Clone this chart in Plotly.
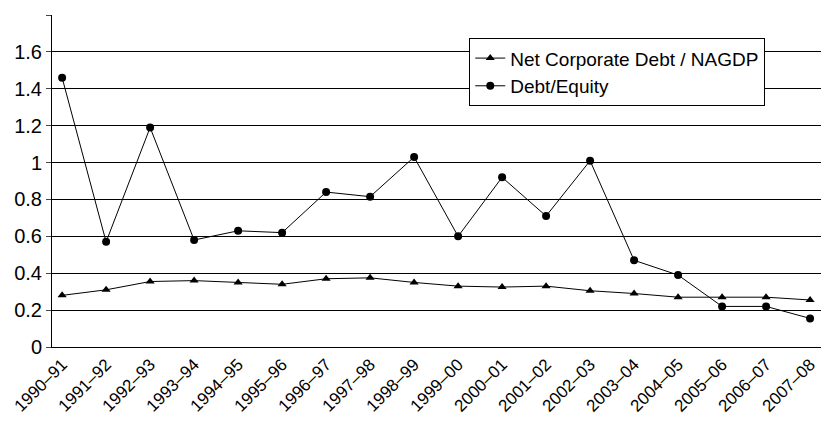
import plotly.graph_objects as go

years = ["1990–91", "1991–92", "1992–93", "1993–94", "1994–95", "1995–96", "1996–97",
         "1997–98", "1998–99", "1999–00", "2000–01", "2001–02", "2002–03", "2003–04",
         "2004–05", "2005–06", "2006–07", "2007–08"]
net_debt = [0.28, 0.31, 0.355, 0.36, 0.35, 0.34, 0.37, 0.375, 0.35, 0.33, 0.325, 0.33,
            0.305, 0.29, 0.27, 0.27, 0.27, 0.255]
debt_equity = [1.46, 0.57, 1.19, 0.58, 0.63, 0.62, 0.84, 0.815, 1.03, 0.60, 0.92, 0.71,
               1.01, 0.47, 0.39, 0.22, 0.22, 0.155]
tick_vals = [0, 0.2, 0.4, 0.6, 0.8, 1.0, 1.2, 1.4, 1.6, 1.8]
tick_text = ["0", "0.2", "0.4", "0.6", "0.8", "1", "1.2", "1.4", "1.6", ""]

x = list(range(len(years)))
fig = go.Figure()
fig.add_trace(go.Scatter(x=x, y=net_debt, mode="lines+markers", name="Net Corporate Debt / NAGDP",
                         line=dict(color="black", width=1),
                         marker=dict(symbol="triangle-up", size=8, color="black")))
fig.add_trace(go.Scatter(x=x, y=debt_equity, mode="lines+markers", name="Debt/Equity",
                         line=dict(color="black", width=1),
                         marker=dict(symbol="circle", size=8, color="black")))

fig.update_layout(
    width=829, height=446, plot_bgcolor="white", paper_bgcolor="white",
    margin=dict(l=44, r=8, t=7, b=107),
    font=dict(family="Liberation Sans", size=20, color="black"),
    xaxis=dict(tickvals=x, ticktext=years, tickangle=-45, range=[-0.23, 17.43],
               showgrid=False, showline=True, linecolor="black", ticks="", zeroline=False,
               automargin=False, tickfont=dict(size=17)),
    yaxis=dict(range=[0, 1.8], tickvals=tick_vals, ticktext=tick_text, showgrid=True,
               gridcolor="black", gridwidth=1, showline=True, linecolor="black",
               ticks="outside", ticklen=5, zeroline=False, automargin=False,
               tickfont=dict(size=20)),
    legend=dict(x=0.537, y=0.93, xanchor="left", yanchor="top", bgcolor="white",
                bordercolor="black", borderwidth=1, font=dict(size=19),
                tracegroupgap=0, itemwidth=30),
)
fig.write_html("out.html")
